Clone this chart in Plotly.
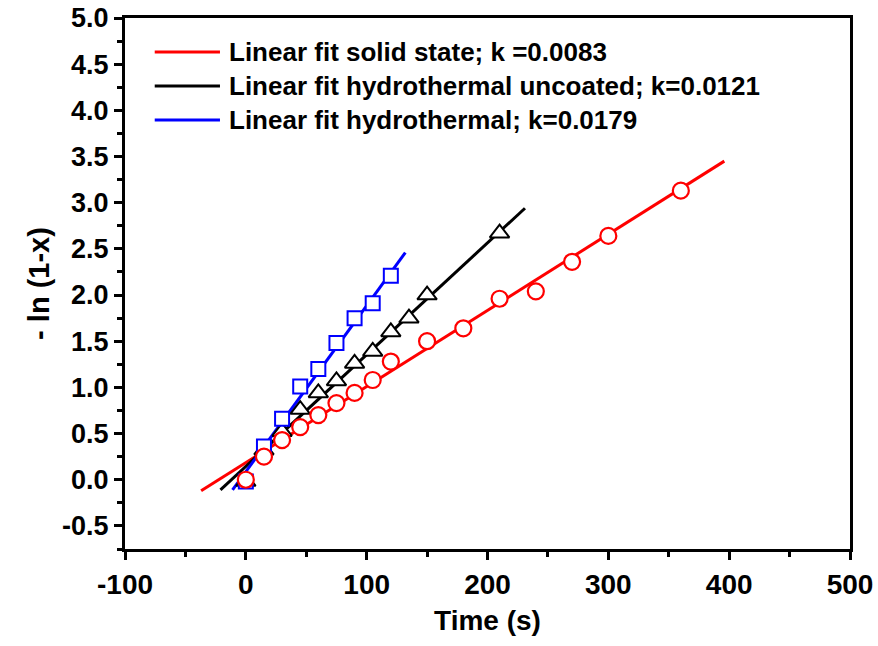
import plotly.graph_objects as go

# solid state (red circles)
t_solid = [0, 15, 30, 45, 60, 75, 90, 105, 120, 150, 180, 210, 240, 270, 300, 360]
y_solid = [0.0, 0.25, 0.43, 0.57, 0.70, 0.83, 0.94, 1.08, 1.28, 1.50, 1.64, 1.96, 2.04, 2.36, 2.64, 3.13]

# hydrothermal uncoated (black triangles)
t_unc = [0, 15, 30, 45, 60, 75, 90, 105, 120, 135, 150, 210]
y_unc = [-0.02, 0.32, 0.52, 0.76, 0.94, 1.07, 1.26, 1.39, 1.60, 1.75, 2.00, 2.67]

# hydrothermal (blue squares)
t_hyd = [0, 15, 30, 45, 60, 75, 90, 105, 120]
y_hyd = [-0.02, 0.36, 0.66, 1.01, 1.20, 1.48, 1.75, 1.91, 2.21]

# fitted lines, end points
fit_solid_x = [-37, 396]
fit_solid_y = [-0.12, 3.45]
fit_unc_x = [-21, 231]
fit_unc_y = [-0.11, 2.94]
fit_hyd_x = [-11, 132]
fit_hyd_y = [-0.11, 2.46]

labels = ["Linear fit solid state; k =0.0083",
          "Linear fit hydrothermal uncoated; k=0.0121",
          "Linear fit hydrothermal; k=0.0179"]
colors = ["#ff0000", "#000000", "#0000ff"]

x_ticks = [-100, 0, 100, 200, 300, 400, 500]
x_ticktext = ["-100", "0", "100", "200", "300", "400", "500"]
y_ticks = [-0.5, 0, 0.5, 1, 1.5, 2, 2.5, 3, 3.5, 4, 4.5, 5]
y_ticktext = ["-0.5", "0.0", "0.5", "1.0", "1.5", "2.0", "2.5", "3.0", "3.5", "4.0", "4.5", "5.0"]

FONT = "Liberation Sans, Arial, sans-serif"

fig = go.Figure()

for fx, fy, c, name in zip([fit_solid_x, fit_unc_x, fit_hyd_x],
                           [fit_solid_y, fit_unc_y, fit_hyd_y], colors, labels):
    fig.add_trace(go.Scatter(x=fx, y=fy, mode="lines", name=name,
                             line=dict(color=c, width=3), showlegend=False))

fig.add_trace(go.Scatter(x=t_unc, y=y_unc, mode="markers", showlegend=False,
                         marker=dict(symbol="triangle-up", size=17, color="white",
                                     line=dict(color="black", width=2))))
fig.add_trace(go.Scatter(x=t_hyd, y=y_hyd, mode="markers", showlegend=False,
                         marker=dict(symbol="square", size=14, color="white",
                                     line=dict(color="#0000ff", width=2))))
fig.add_trace(go.Scatter(x=t_solid, y=y_solid, mode="markers", showlegend=False,
                         marker=dict(symbol="circle", size=16, color="white",
                                     line=dict(color="#ff0000", width=2.2))))

# legend drawn by hand (long line samples like the original)
for i, (c, name) in enumerate(zip(colors, labels)):
    yy = 0.936 - i * 0.064
    fig.add_shape(type="line", xref="paper", yref="paper",
                  x0=0.041, x1=0.131, y0=yy, y1=yy,
                  line=dict(color=c, width=3))
    fig.add_annotation(xref="paper", yref="paper", x=0.141, y=yy,
                       text="<b>" + name + "</b>", showarrow=False,
                       xanchor="left", yanchor="middle",
                       font=dict(family=FONT, size=26, color="black"))

axis_common = dict(showline=True, linewidth=3, linecolor="black", mirror=True,
                   ticks="outside", ticklen=8, tickwidth=2.5, tickcolor="black",
                   showgrid=False, zeroline=False, automargin=False,
                   ticklabeloverflow="allow")

fig.update_xaxes(range=[-100, 500], tickvals=x_ticks, ticktext=x_ticktext,
                 minor=dict(ticks="outside", ticklen=5, tickwidth=2.5,
                            tickcolor="black", dtick=50, tick0=0),
                 tickfont=dict(family=FONT, size=28, color="black", weight="bold"),
                 title=dict(text="<b>Time (s)</b>", standoff=12,
                            font=dict(family=FONT, size=28, color="black")),
                 **axis_common)
fig.update_yaxes(range=[-0.75, 5.0], tickvals=y_ticks, ticktext=y_ticktext,
                 minor=dict(ticks="outside", ticklen=5, tickwidth=2.5,
                            tickcolor="black", dtick=0.25, tick0=0),
                 tickfont=dict(family=FONT, size=27, color="black", weight="bold"),
                 title=dict(text="<b>- ln (1-x)</b>", standoff=4,
                            font=dict(family=FONT, size=29, color="black")),
                 **axis_common)

fig.update_layout(width=878, height=646, plot_bgcolor="white", paper_bgcolor="white",
                  margin=dict(l=125, r=28, t=18, b=97))

# drop the default 8px body margin so the figure fills the window exactly
fig.write_html("out.html", config={"displayModeBar": False},
               post_script="document.body.style.margin='0';")
